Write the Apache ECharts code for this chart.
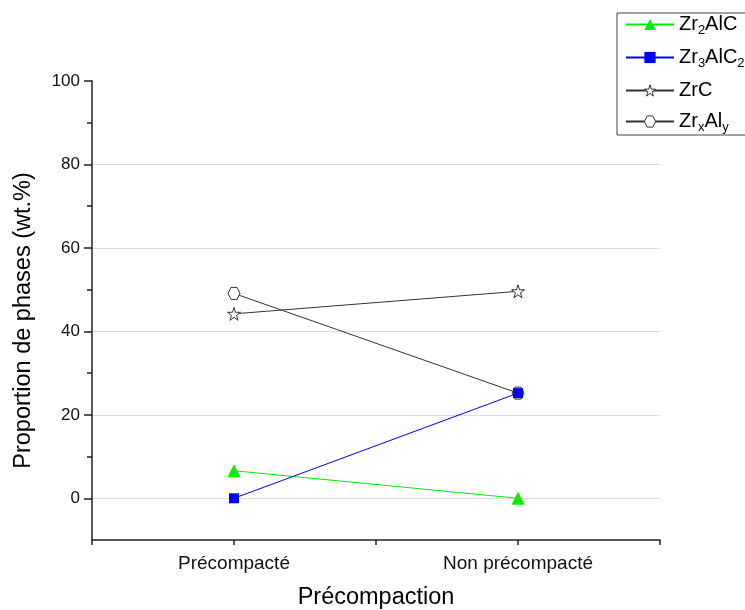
<!DOCTYPE html>
<html>
<head>
<meta charset="utf-8">
<script src="https://cdn.jsdelivr.net/npm/echarts@6/dist/echarts.min.js"></script>
<style>
html,body{margin:0;padding:0;background:#fff;}
#chart{width:745px;height:610px;}
</style>
</head>
<body>
<div id="chart"></div>
<script>
// ---- data ----
const categories = ['Précompacté', 'Non précompacté'];
const seriesNames = ['Zr2AlC', 'Zr3AlC2', 'ZrC', 'ZrxAly'];
const legendLabels = ['Zr{sub|2}AlC', 'Zr{sub|3}AlC{sub|2}', 'ZrC', 'Zr{sub|x}Al{sub|y}'];
const zr2alc = [6.6, 0];
const zr3alc2 = [0, 25.2];
const zrc = [44.2, 49.6];
const zrxaly = [49.1, 25.2];
const yLabelTicks = [0, 20, 40, 60, 80, 100];
const yMinorTicks = [10, 30, 50, 70, 90];
const xTicks = [0.5, 1, 1.5, 2, 2.5];

const starPath = 'path://M50,0 L61.8,36.2 L100,36.2 L69.1,58.8 L80.9,95.1 L50,72.7 L19.1,95.1 L30.9,58.8 L0,36.2 L38.2,36.2 Z';
const hexPath = 'path://M25,0 L75,0 L100,50 L75,100 L25,100 L0,50 Z';

function toPoints(arr) { return arr.map((v, i) => [i + 1, v]); }

const chart = echarts.init(document.getElementById('chart'));
const font = 'Liberation Sans, Arial, sans-serif';
const legendMap = {};
seriesNames.forEach((n, i) => legendMap[n] = legendLabels[i]);
const hollow = { color: '#fff', borderColor: '#333', borderWidth: 1 };

chart.setOption({
  animation: false,
  textStyle: { fontFamily: font },
  grid: { left: 92, right: 85, top: 81, bottom: 70, outerBoundsMode: 'none', containLabel: false },
  legend: {
    left: 617, top: 13,
    orient: 'vertical',
    data: [
      { name: seriesNames[0] },
      { name: seriesNames[1] },
      { name: seriesNames[2], itemStyle: hollow },
      { name: seriesNames[3], itemStyle: hollow }
    ],
    itemWidth: 48, itemHeight: 14, itemGap: 10,
    padding: [1, 60, 1, 8],
    borderColor: '#444', borderWidth: 1,
    formatter: n => legendMap[n],
    textStyle: {
      fontFamily: font, fontSize: 20, color: '#000', lineHeight: 21,
      rich: { sub: { fontSize: 13, padding: [12, 0, 0, 0], color: '#000', fontFamily: font } }
    }
  },
  xAxis: {
    type: 'value', min: 0.5, max: 2.5, interval: 0.5,
    name: 'Précompaction', nameLocation: 'middle', nameGap: 46,
    nameTextStyle: { fontSize: 23.5, color: '#000', fontFamily: font },
    axisLine: { onZero: false, lineStyle: { color: '#222', width: 1.5 } },
    axisTick: { customValues: xTicks, length: 5, lineStyle: { color: '#222', width: 1.5 } },
    axisLabel: { customValues: [1, 2], formatter: v => categories[Math.round(v) - 1] || '', fontSize: 19, color: '#111', margin: 14, fontFamily: font },
    splitLine: { show: false }
  },
  yAxis: [{
    type: 'value', min: -10, max: 100, interval: 10,
    name: 'Proportion de phases (wt.%)', nameLocation: 'middle', nameGap: 56, nameRotate: 90,
    nameTextStyle: { fontSize: 23.5, color: '#000', fontFamily: font, padding: [0, 20, 0, 0] },
    axisLine: { show: true, lineStyle: { color: '#222', width: 1.5 } },
    axisTick: { show: true, customValues: yLabelTicks, length: 8, lineStyle: { color: '#222', width: 1.5 } },
    axisLabel: { customValues: yLabelTicks, fontSize: 17, color: '#111', margin: 12, fontFamily: font },
    splitLine: { show: true, showMinLine: true, showMaxLine: false, lineStyle: { color: '#dddddd', width: 1 } }
  }, {
    type: 'value', min: -10, max: 100, interval: 10, position: 'left', offset: 0,
    axisLine: { show: false },
    axisTick: { show: true, customValues: yMinorTicks, length: 5, lineStyle: { color: '#222', width: 1.5 } },
    axisLabel: { show: false },
    splitLine: { show: false }
  }],
  series: [
    { name: seriesNames[0], type: 'line', data: toPoints(zr2alc), symbol: 'triangle', symbolSize: 13,
      lineStyle: { color: '#00ee00', width: 1 }, itemStyle: { color: '#00ee00' }, z: 3 },
    { name: seriesNames[1], type: 'line', data: toPoints(zr3alc2), symbol: 'rect', symbolSize: 10,
      lineStyle: { color: '#0000ff', width: 1 }, itemStyle: { color: '#0000ff' }, z: 4 },
    { name: seriesNames[2], type: 'line', data: toPoints(zrc), symbol: starPath, symbolSize: 13,
      lineStyle: { color: '#333', width: 1 }, itemStyle: hollow, z: 2 },
    { name: seriesNames[3], type: 'line', data: toPoints(zrxaly), symbol: hexPath, symbolSize: 12,
      lineStyle: { color: '#333', width: 1 }, itemStyle: hollow, z: 2 }
  ]
});
</script>
</body>
</html>
